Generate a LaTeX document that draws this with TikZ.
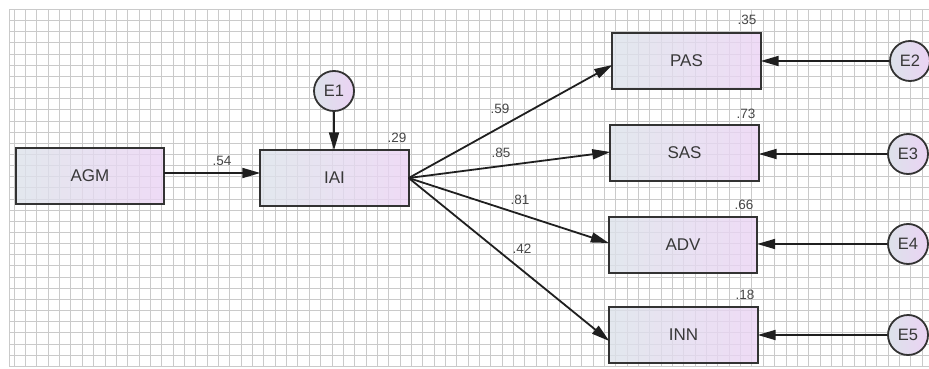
\documentclass[tikz,border=0pt]{standalone}
\usepackage{fontspec}
\setmainfont{Liberation Sans}
\usetikzlibrary{arrows.meta}
\definecolor{boxL}{HTML}{DCE2EA}
\definecolor{boxR}{HTML}{EBD3F4}
\definecolor{edgec}{HTML}{333333}
\definecolor{gridc}{HTML}{CACACA}
\begin{document}
\begin{tikzpicture}[x=1pt,y=-1pt,
  gridline/.style={draw=gridc, line width=0.6pt},
  obs/.style={left color=boxL, right color=boxR,
    fill opacity=0.8, text opacity=1,
    minimum width=148pt, minimum height=55pt, inner sep=0pt,
    font=\fontsize{17}{20}\selectfont, text=black!78},
  frame/.style={draw=edgec, line width=1.8pt},
  err/.style={circle, draw=edgec, line width=1.8pt, left color=boxL, right color=boxR,
    minimum size=40pt, inner sep=0pt,
    font=\fontsize{16.5}{19}\selectfont, text=black!78},
  arr/.style={line width=1.8pt, draw=black!88, -{Triangle[length=18pt,width=10pt]}},
  coef/.style={font=\fontsize{13.5}{15}\selectfont, text=black!72, inner sep=0pt}]
\useasboundingbox (0,0) rectangle (929,369);
\fill[white] (0,0) rectangle (929,369);
% grid
\foreach \i in {0,...,32} {
  \pgfmathsetmacro\yy{9.3+11.15*\i}
  \draw[gridline] (9,\yy) -- (929,\yy);
}
\foreach \j in {0,...,80} {
  \pgfmathsetmacro\xx{14+11.35*\j}
  \draw[gridline] (\xx,9.3) -- (\xx,366);
}
\draw[gridline] (9,9.3) -- (9,366);
% observed variables
\node[obs] (AGM) at (90,176) {AGM};
\node[obs] (IAI) at (334.5,178) {IAI};
\node[obs] (PAS) at (686.5,61) {PAS};
\node[obs] (SAS) at (684.5,153) {SAS};
\node[obs] (ADV) at (683,245) {ADV};
\node[obs] (INN) at (683.5,335) {INN};
\foreach \b in {AGM,IAI,PAS,SAS,ADV,INN}
  \draw[frame] (\b.north west) rectangle (\b.south east);
% error terms
\node[err] (E1) at (334,91) {E1};
\node[err] (E2) at (910,61) {E2};
\node[err] (E3) at (908,154) {E3};
\node[err] (E4) at (908,244) {E4};
\node[err] (E5) at (908,335) {E5};
% paths
\draw[arr] ([yshift=3pt]AGM.east) -- ([yshift=5pt]IAI.west);
\draw[arr] (E1.south) -- (E1.south |- IAI.north);
\draw[arr] (IAI.east) -- ([yshift=-4pt]PAS.west);
\draw[arr] (IAI.east) -- ([yshift=1pt]SAS.west);
\draw[arr] (IAI.east) -- ([yshift=2pt]ADV.west);
\draw[arr] (IAI.east) -- ([yshift=-6pt]INN.west);
\draw[arr] (E2.west) -- (E2.west -| PAS.east);
\draw[arr] (E3.west) -- (E3.west -| SAS.east);
\draw[arr] (E4.west) -- (E4.west -| ADV.east);
\draw[arr] (E5.west) -- (E5.west -| INN.east);
% coefficients
\node[coef] (c54) at (222,161) {.54};
\node[coef] (c59) at (500,109) {.59};
\node[coef] (c85) at (501,153) {.85};
\node[coef] (c81) at (520,200) {.81};
\node[coef] (c42) at (522,249) {.42};
% squared multiple correlations
\node[coef] (r29) at (397,138) {.29};
\node[coef] (r35) at (747,20) {.35};
\node[coef] (r73) at (746,114) {.73};
\node[coef] (r66) at (744,205) {.66};
\node[coef] (r18) at (745,295) {.18};
\end{tikzpicture}
\end{document}
